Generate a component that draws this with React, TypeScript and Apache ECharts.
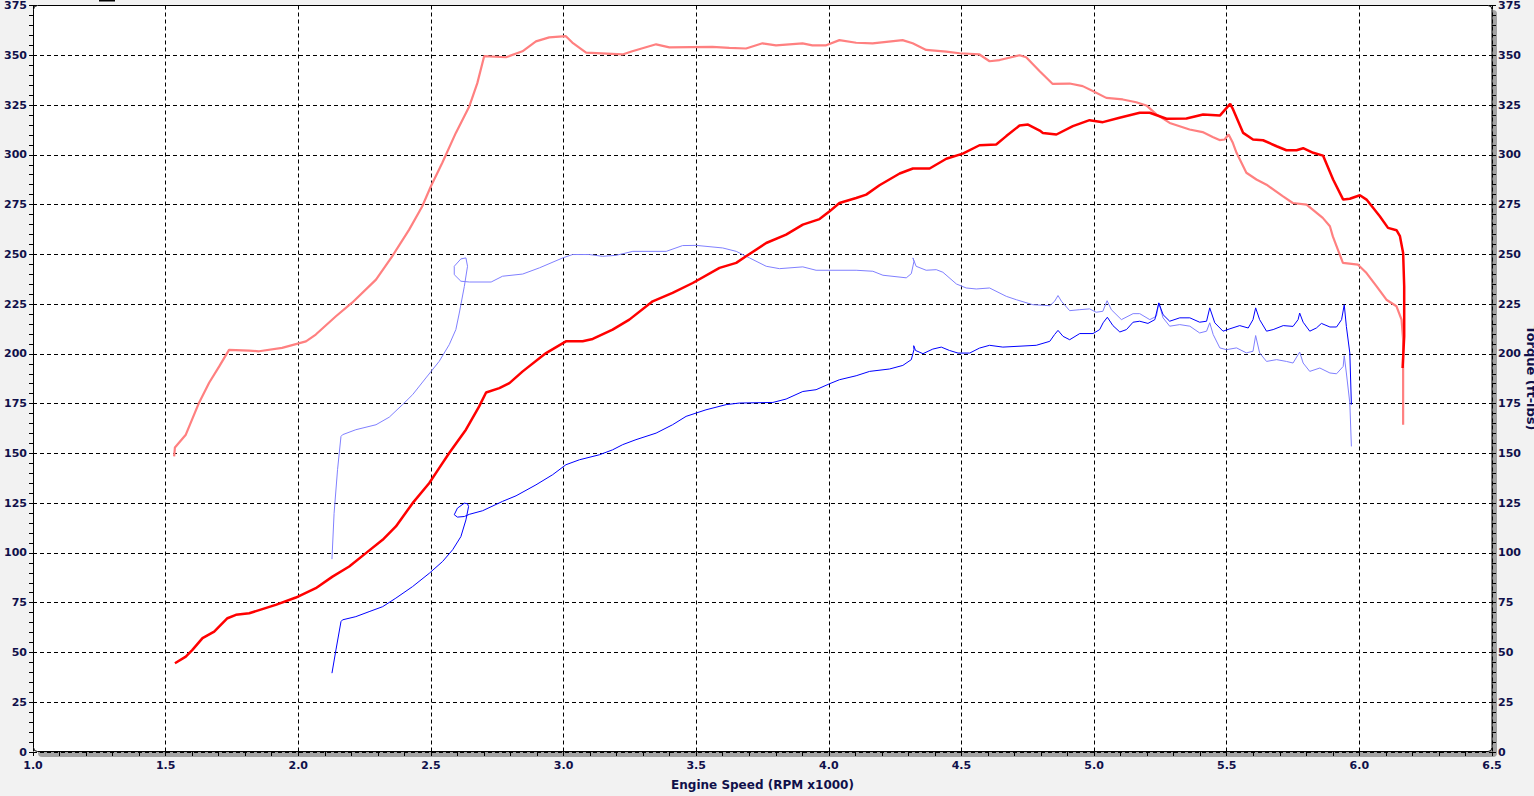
import React, { useEffect, useRef } from "react";
import * as echarts from "echarts";

// RPM (x1000) / value pairs read from the dyno sheet
const torqueRun1: [number, number][] = [
  [1.532, 148.5], [1.535, 153], [1.576, 159.4], [1.626, 175.5], [1.664, 185.5], [1.702, 193.7], [1.739, 202],
  [1.815, 201.6], [1.852, 201.3], [1.939, 203], [2.029, 206.3], [2.066, 209.7], [2.142, 218.9], [2.203, 225.7],
  [2.293, 237.3], [2.354, 249], [2.418, 262.4], [2.467, 274], [2.5, 284.2], [2.543, 296], [2.594, 311],
  [2.645, 324.4], [2.675, 336], [2.701, 349.6], [2.72, 349.4], [2.783, 349], [2.845, 352], [2.896, 357],
  [2.946, 359], [3.009, 359.6], [3.033, 356.4], [3.085, 351.3], [3.222, 350.4], [3.259, 352], [3.349, 355.5],
  [3.399, 354], [3.561, 354.2], [3.625, 353.7], [3.688, 353.4], [3.75, 356], [3.801, 355], [3.901, 356],
  [3.938, 355], [3.99, 355], [4.04, 357.6], [4.103, 356.3], [4.165, 356], [4.278, 357.6], [4.316, 356],
  [4.367, 352.7], [4.443, 351.8], [4.493, 351], [4.568, 350.4], [4.606, 347], [4.644, 347.6], [4.719, 350],
  [4.744, 349], [4.795, 342], [4.844, 335.6], [4.908, 335.8], [4.957, 334.5], [4.995, 332], [5.046, 328.6],
  [5.108, 327.8], [5.159, 326.4], [5.197, 324.8], [5.235, 320.3], [5.285, 316], [5.36, 312.7], [5.409, 311.4],
  [5.447, 309], [5.473, 307.4], [5.492, 307.7], [5.507, 310.2], [5.523, 306], [5.537, 301], [5.574, 291],
  [5.612, 287.6], [5.65, 285], [5.711, 279.2], [5.749, 275.8], [5.801, 275], [5.862, 268.3], [5.889, 264.1],
  [5.9, 259], [5.938, 245.7], [5.995, 244.8], [6.027, 240.6], [6.065, 233.9], [6.102, 227.2], [6.14, 223.9],
  [6.159, 217.2], [6.165, 207.1], [6.165, 178.6], [6.165, 164.4],
];

const powerRun1: [number, number][] = [
  [1.535, 44.6], [1.576, 47.9], [1.601, 51.3], [1.639, 57.2], [1.683, 60.5], [1.733, 67.2], [1.765, 68.9],
  [1.815, 69.7], [1.915, 73.9], [1.991, 77.6], [2.066, 82.3], [2.129, 88.1], [2.192, 93.2], [2.255, 99.9],
  [2.318, 106.6], [2.368, 113.3], [2.431, 125], [2.494, 135.1], [2.531, 142.6], [2.569, 150.2], [2.632, 161.9],
  [2.682, 173.6], [2.708, 180.6], [2.758, 182.8], [2.796, 185.3], [2.846, 191.2], [2.934, 200.4], [3.009, 206.3],
  [3.072, 206.3], [3.11, 207.5], [3.185, 212.2], [3.248, 217.2], [3.336, 226.4], [3.411, 230.6], [3.487, 235.6],
  [3.588, 243.2], [3.651, 245.7], [3.688, 249], [3.764, 255.7], [3.839, 259.9], [3.902, 264.9], [3.965, 267.7],
  [4.003, 271.6], [4.04, 275.8], [4.103, 278.3], [4.141, 280], [4.191, 284.7], [4.267, 290.6], [4.317, 293.1],
  [4.38, 293.1], [4.443, 298], [4.505, 300.6], [4.568, 304.8], [4.631, 305.2], [4.669, 309.4], [4.719, 314.7],
  [4.751, 315.2], [4.795, 312.2], [4.807, 311], [4.858, 310.2], [4.92, 314.4], [4.983, 317.4], [5.033, 316.4],
  [5.096, 318.6], [5.172, 321.1], [5.21, 321.1], [5.273, 318.1], [5.348, 318.2], [5.411, 320.2], [5.474, 319.7],
  [5.513, 325.6], [5.524, 322.8], [5.562, 311], [5.599, 307.7], [5.637, 307.3], [5.688, 304.3], [5.725, 302.3],
  [5.763, 302.3], [5.788, 303.3], [5.826, 301], [5.863, 299.6], [5.901, 287.6], [5.939, 277.5], [5.964, 277.9],
  [6.002, 279.7], [6.027, 277.5], [6.077, 269.1], [6.108, 263.3], [6.14, 262.1], [6.153, 259.1], [6.165, 250.7],
  [6.169, 233.9], [6.169, 208.7], [6.163, 192.9],
];

const torqueRun2: [number, number][] = [
  [2.127, 96.9], [2.135, 119.9], [2.148, 141.8], [2.161, 158.5], [2.167, 159.4], [2.217, 161.9], [2.293, 164.4],
  [2.343, 168.2], [2.393, 174.5], [2.431, 179.5], [2.481, 187.9], [2.531, 196.2], [2.569, 204.6], [2.594, 212.2],
  [2.607, 220.5], [2.626, 233.9], [2.638, 244], [2.632, 248.2], [2.613, 247.7], [2.588, 244], [2.588, 239.8],
  [2.613, 236.5], [2.645, 236.1], [2.727, 236.1], [2.77, 239], [2.846, 240.1], [2.909, 243.2], [2.997, 248.2],
  [3.034, 249.9], [3.097, 249.9], [3.147, 249], [3.198, 249.5], [3.261, 251.5], [3.387, 251.5], [3.449, 254.4],
  [3.5, 254.5], [3.6, 253.2], [3.651, 251.5], [3.701, 248.2], [3.764, 244], [3.814, 242.8], [3.902, 243.7],
  [3.952, 242], [4.103, 242], [4.166, 241.5], [4.204, 239.5], [4.292, 238.2], [4.311, 240.3], [4.321, 246.5],
  [4.317, 248.2], [4.329, 244], [4.367, 242], [4.405, 242.3], [4.43, 241], [4.481, 235.1], [4.518, 233.1],
  [4.556, 232.6], [4.606, 233.1], [4.669, 228.9], [4.707, 227.2], [4.769, 224.7], [4.833, 224.2], [4.851, 226.4],
  [4.864, 229.3], [4.877, 226.4], [4.908, 221.7], [4.946, 222.2], [4.983, 222.6], [5.008, 220.9], [5.033, 221.4],
  [5.049, 226.7], [5.065, 222.2], [5.103, 217.2], [5.147, 220.2], [5.172, 220.2], [5.21, 217.2], [5.235, 218.9],
  [5.244, 225.6], [5.26, 218.1], [5.285, 213.9], [5.323, 214.7], [5.361, 213.9], [5.398, 210.5], [5.424, 211.4],
  [5.436, 215.6], [5.449, 209.7], [5.474, 203], [5.499, 202.1], [5.537, 203], [5.574, 200.5], [5.599, 201.3],
  [5.609, 209.2], [5.624, 200.5], [5.65, 196.2], [5.688, 197.1], [5.725, 196.2], [5.75, 195.4], [5.775, 200.9],
  [5.788, 195.4], [5.813, 191.2], [5.851, 192.9], [5.889, 190.4], [5.914, 190], [5.939, 193.7], [5.943, 199.1],
  [5.951, 190.4], [5.964, 175.3], [5.97, 153.5],
];

const powerRun2: [number, number][] = [
  [2.127, 39.6], [2.142, 51.3], [2.161, 65.5], [2.167, 66.4], [2.217, 68], [2.267, 70.5], [2.318, 73],
  [2.368, 77.3], [2.431, 83.1], [2.494, 89.8], [2.544, 95.7], [2.582, 101.6], [2.613, 108.2], [2.632, 116.6],
  [2.642, 123.3], [2.638, 124.7], [2.626, 125], [2.6, 122.5], [2.588, 119.2], [2.6, 118], [2.626, 118.3],
  [2.645, 119.4], [2.695, 121.2], [2.77, 125.9], [2.821, 128.7], [2.896, 134.2], [2.959, 139.3], [3.009, 144.3],
  [3.06, 146.8], [3.135, 149.3], [3.185, 151.8], [3.223, 154.4], [3.273, 156.9], [3.349, 160.2], [3.411, 164.4],
  [3.462, 168.6], [3.537, 171.9], [3.613, 174.5], [3.663, 175.3], [3.789, 175.6], [3.839, 177.3], [3.902, 181.1],
  [3.952, 182], [4.003, 185], [4.04, 187], [4.103, 189], [4.154, 191.2], [4.229, 192.4], [4.279, 194.2],
  [4.311, 197.1], [4.321, 202.1], [4.32, 204.1], [4.327, 201.7], [4.355, 200.1], [4.392, 202.4], [4.424, 203.4],
  [4.455, 201.7], [4.487, 200.4], [4.531, 200.4], [4.568, 202.9], [4.606, 204.3], [4.656, 203.4], [4.782, 204.3],
  [4.833, 206.3], [4.851, 209.7], [4.864, 211.8], [4.883, 208.8], [4.908, 207.1], [4.946, 210.2], [4.996, 210.2],
  [5.021, 212.2], [5.034, 215.6], [5.05, 218.4], [5.071, 214.2], [5.097, 211], [5.122, 212.2], [5.147, 215.9],
  [5.172, 216.4], [5.203, 215.3], [5.229, 217.2], [5.244, 225.6], [5.26, 219.7], [5.285, 216.4], [5.323, 218.1],
  [5.361, 218.1], [5.398, 215.9], [5.424, 216.4], [5.436, 223.1], [5.455, 215.6], [5.486, 211.4], [5.512, 212.6],
  [5.549, 214.2], [5.581, 213], [5.599, 217.2], [5.609, 223.1], [5.624, 217.2], [5.65, 211.4], [5.675, 212.2],
  [5.713, 214.2], [5.75, 213.8], [5.769, 217.2], [5.775, 220.5], [5.788, 215.9], [5.813, 211.4], [5.838, 213],
  [5.857, 215.3], [5.889, 213.5], [5.914, 213.5], [5.933, 217.2], [5.943, 224.7], [5.951, 213.8], [5.964, 200.4],
  [5.97, 174.5],
];

const X_MIN = 1.0;
const X_MAX = 6.5;
const X_STEP = 0.5;
const Y_MIN = 0;
const Y_MAX = 375;
const Y_STEP = 25;
const X_TITLE = "Engine Speed (RPM x1000)";
const Y_RIGHT_TITLE = "Torque (ft-lbs)";

const FONT = '"DejaVu Sans", Verdana, sans-serif';
const LABEL_COLOR = "#10104a";

export default function App() {
  const ref = useRef<HTMLDivElement>(null);

  useEffect(() => {
    if (!ref.current) return;
    const chart = echarts.init(ref.current, null, { renderer: "svg" });

    const labelStyle = {
      color: LABEL_COLOR,
      fontWeight: "bold" as const,
      fontSize: 11,
      fontFamily: FONT,
    };
    const tick = { show: true, length: 4, lineStyle: { color: "#000", width: 1 } };
    const minor = { show: true, splitNumber: 5, length: 4, lineStyle: { color: "#000", width: 1 } };
    const split = { show: true, lineStyle: { color: "#000", width: 1, type: [4, 3] as number[] } };

    const line = (data: [number, number][], color: string, width: number) => ({
      type: "line" as const,
      data,
      showSymbol: false,
      symbol: "none",
      smooth: false,
      lineStyle: { color, width },
      z: 3,
    });

    chart.setOption({
      animation: false,
      backgroundColor: "#f2f2f2",
      grid: { left: 33, right: 42, top: 5, bottom: 44, containLabel: false },
      graphic: [
        { type: "rect", z: -2, shape: { x: 38, y: 10, width: 1459, height: 747, r: 4 }, style: { fill: "#a3a3a3" } },
        {
          type: "rect",
          z: -1,
          shape: { x: 33.5, y: 5.5, width: 1458.5, height: 746, r: 4 },
          style: { fill: "#ffffff", stroke: "#000000", lineWidth: 1 },
        },
        { type: "rect", z: 5, shape: { x: 99, y: 0, width: 16, height: 1.5 }, style: { fill: "#000" } },
        {
          type: "text",
          z: 5,
          x: 1531,
          y: 378,
          rotation: -Math.PI / 2,
          style: {
            text: Y_RIGHT_TITLE,
            fontSize: 13,
            fontWeight: "bold",
            fontFamily: FONT,
            fill: LABEL_COLOR,
            align: "center",
            verticalAlign: "middle",
          },
        },
      ],
      xAxis: {
        type: "value",
        min: X_MIN,
        max: X_MAX,
        interval: X_STEP,
        axisLine: { show: false },
        axisTick: tick,
        minorTick: minor,
        splitLine: split,
        axisLabel: { ...labelStyle, margin: 8, formatter: (v: number) => v.toFixed(1) },
        name: X_TITLE,
        nameLocation: "middle",
        nameGap: 27,
        nameTextStyle: { color: LABEL_COLOR, fontWeight: "bold", fontSize: 12, fontFamily: FONT },
      },
      yAxis: [
        {
          type: "value",
          position: "left",
          min: Y_MIN,
          max: Y_MAX,
          interval: Y_STEP,
          axisLine: { show: false },
          axisTick: tick,
          minorTick: minor,
          splitLine: split,
          axisLabel: { ...labelStyle, margin: 6 },
        },
        {
          type: "value",
          position: "right",
          min: Y_MIN,
          max: Y_MAX,
          interval: Y_STEP,
          axisLine: { show: false },
          axisTick: tick,
          minorTick: minor,
          splitLine: { show: false },
          axisLabel: { ...labelStyle, margin: 6 },
        },
      ],
      series: [
        line(torqueRun2, "#8080ff", 1),
        line(powerRun2, "#0000ff", 1),
        line(torqueRun1, "#ff8080", 2.2),
        line(powerRun1, "#ff0000", 2.5),
      ],
    });

    return () => chart.dispose();
  }, []);

  return (
    <div
      ref={ref}
      style={{ position: "fixed", left: 0, top: 0, width: 1534, height: 796 }}
    />
  );
}
